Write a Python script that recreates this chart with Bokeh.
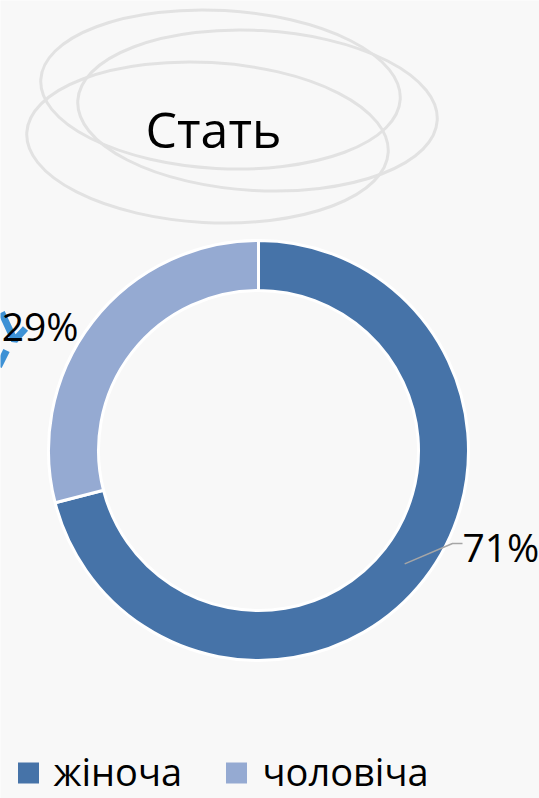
import math
from bokeh.plotting import figure
from bokeh.models import ColumnDataSource
from bokeh.core.properties import value
from bokeh.embed import file_html
from bokeh.resources import INLINE

# ---- data ----
categories = ["жіноча", "чоловіча"]
shares = [71, 29]
colors = ["#4673A8", "#95AAD2"]
title_text = "Стать"

W, H = 539, 798
FONT = "Open Sans"
BG = "#f8f8f8"

p = figure(width=W, height=H, x_range=(0, W), y_range=(0, H),
           output_backend="svg", toolbar_location=None, min_border=0)
p.axis.visible = False
p.grid.visible = False
p.outline_line_color = None
p.background_fill_color = BG
p.border_fill_color = BG

# ---- decorative title ellipses ----
ell_x = [220, 257, 207]
ell_y = [709, 688, 656]
ell_w = [360, 360, 362]
ell_h = [158, 160, 160]
p.ellipse(x=ell_x, y=ell_y, width=ell_w, height=ell_h, angle=-0.055,
          fill_color=None, line_color="#e2e2e2", line_width=3)

p.text(x=[213], y=[670], text=[title_text], text_font=value(FONT),
       text_font_size="50px", text_align="center", text_baseline="middle",
       text_color="#000000")

# ---- decorative blue fragment at left edge ----
p.line(x=[1, 14, 25], y=[486, 458, 470], line_color="#1c7fcf", line_width=7, line_alpha=0.85)
p.line(x=[6, -2], y=[448, 432], line_color="#1c7fcf", line_width=7, line_alpha=0.85)

# ---- donut ----
cx, cy = 258, 348
r_out, r_in = 210, 160
total = float(sum(shares))
starts, ends, mids = [], [], []
a = math.pi / 2
for v in shares:
    sweep = 2 * math.pi * v / total
    starts.append(a - sweep)
    ends.append(a)
    mids.append(a - sweep / 2)
    a -= sweep

src = ColumnDataSource(dict(cat=categories, val=shares, start=starts, end=ends, color=colors))
p.annular_wedge(x=cx, y=cy, inner_radius=r_in, outer_radius=r_out,
                start_angle="start", end_angle="end", fill_color="color",
                line_color="white", line_width=3, source=src)

# ---- data labels ----
labels = [f"{v}%" for v in shares]
# 71% label (right, with leader line)
m0 = mids[0]
lx0 = cx + 185 * math.cos(m0)
ly0 = cy + 185 * math.sin(m0)
ex, ey = cx + 194, cy - 93
p.line(x=[lx0, ex, ex + 10], y=[ly0, ey, ey], line_color="#a6a6a6", line_width=1.5)
p.text(x=[ex + 10], y=[ey - 3], text=[labels[0]], text_font=value(FONT),
       text_font_size="39px", text_align="left", text_baseline="middle", text_color="#000000")
# 29% label (upper left)
p.text(x=[cx - 180], y=[cy + 125], text=[labels[1]], text_font=value(FONT),
       text_font_size="39px", text_align="right", text_baseline="middle", text_color="#000000")

# ---- legend ----
leg_sq_x = [28, 236]
leg_txt_x = [53, 262]
p.scatter(x=leg_sq_x, y=[25.5, 25.5], marker="square", size=21, fill_color=colors, line_color=None)
p.text(x=leg_txt_x, y=[28, 28], text=categories, text_font=value(FONT),
       text_font_size="38px", text_align="left", text_baseline="middle", text_color="#000000")

open("out.html", "w").write(file_html(p, INLINE))
